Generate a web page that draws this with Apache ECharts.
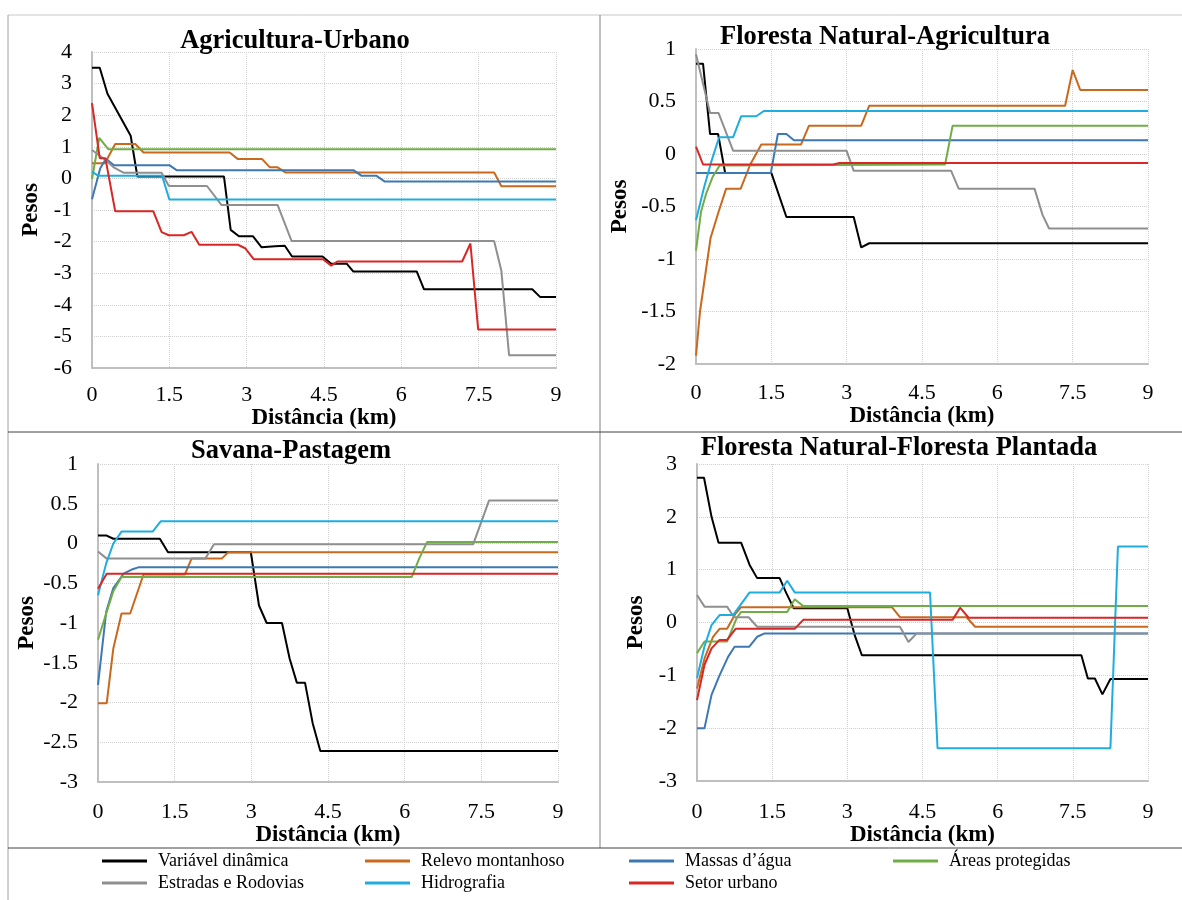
<!DOCTYPE html>
<html>
<head>
<meta charset="utf-8">
<script src="https://cdn.jsdelivr.net/npm/echarts@6.0.0/dist/echarts.min.js"></script>
<style>
html,body{margin:0;padding:0;background:#fff;}
#chart{width:1182px;height:900px;}
</style>
</head>
<body>
<div id="chart"></div>
<script>
// ---------- names / labels ----------
const seriesNames = ['Variável dinâmica','Relevo montanhoso','Massas d’água','Áreas protegidas','Estradas e Rodovias','Hidrografia','Setor urbano'];
const panelTitles = ['Agricultura-Urbano','Floresta Natural-Agricultura','Savana-Pastagem','Floresta Natural-Floresta Plantada'];
const xAxisTitle = 'Distância (km)';
const yAxisTitle = 'Pesos';
const xTicks = [0,1.5,3,4.5,6,7.5,9];
const yTicksP1 = [-6,-5,-4,-3,-2,-1,0,1,2,3,4];
const yTicksP2 = [-2,-1.5,-1,-0.5,0,0.5,1];
const yTicksP3 = [-3,-2.5,-2,-1.5,-1,-0.5,0,0.5,1];
const yTicksP4 = [-3,-2,-1,0,1,2,3];

// ---------- Panel 1: Agricultura-Urbano ----------
const p1Variavel = [[0,3.5],[0.15,3.5],[0.3,2.68],[0.75,1.35],[0.88,0.06],[2.56,0.06],[2.69,-1.63],[2.85,-1.83],[3.12,-1.83],[3.29,-2.18],[3.55,-2.15],[3.74,-2.13],[3.88,-2.47],[4.47,-2.47],[4.64,-2.7],[4.94,-2.7],[5.07,-2.95],[6.3,-2.95],[6.44,-3.51],[8.54,-3.51],[8.69,-3.75],[9,-3.75]];
const p1Relevo = [[0,0.48],[0.25,0.48],[0.45,1.09],[0.84,1.09],[1.0,0.82],[2.67,0.82],[2.83,0.61],[3.3,0.61],[3.45,0.35],[3.6,0.35],[3.75,0.19],[7.8,0.19],[7.94,-0.25],[9,-0.25]];
const p1Massas = [[0,-0.66],[0.16,0.32],[0.27,0.62],[0.42,0.42],[1.5,0.42],[1.64,0.26],[5.07,0.26],[5.23,0.08],[5.52,0.08],[5.68,-0.1],[9,-0.1]];
const p1Areas = [[0,-0.02],[0.14,1.28],[0.32,0.92],[9,0.92]];
const p1Estradas = [[0,0.9],[0.25,0.6],[0.42,0.35],[0.61,0.18],[1.35,0.18],[1.49,-0.24],[2.23,-0.24],[2.51,-0.84],[3.6,-0.84],[3.87,-1.98],[7.8,-1.98],[7.94,-2.92],[8.09,-5.6],[9,-5.6]];
const p1Hidro = [[0,0.22],[0.12,0.08],[1.36,0.08],[1.5,-0.67],[9,-0.67]];
const p1Setor = [[0,2.38],[0.15,0.64],[0.26,0.64],[0.45,-1.04],[1.19,-1.04],[1.35,-1.7],[1.49,-1.8],[1.78,-1.8],[1.93,-1.69],[2.08,-2.1],[2.83,-2.1],[2.97,-2.21],[3.14,-2.56],[4.48,-2.56],[4.64,-2.76],[4.76,-2.63],[7.18,-2.63],[7.34,-2.06],[7.49,-4.78],[9,-4.78]];

// ---------- Panel 2: Floresta Natural-Agricultura ----------
const p2Variavel = [[0,0.86],[0.14,0.86],[0.28,0.19],[0.44,0.19],[0.58,-0.18],[1.5,-0.18],[1.8,-0.6],[3.14,-0.6],[3.29,-0.89],[3.45,-0.85],[9,-0.85]];
const p2Relevo = [[0,-1.92],[0.08,-1.5],[0.17,-1.2],[0.29,-0.8],[0.45,-0.55],[0.6,-0.33],[0.89,-0.33],[1.08,-0.1],[1.3,0.09],[2.09,0.09],[2.25,0.27],[3.29,0.27],[3.45,0.46],[7.35,0.46],[7.5,0.8],[7.65,0.61],[9,0.61]];
const p2Massas = [[0,-0.18],[1.49,-0.18],[1.63,0.19],[1.8,0.19],[1.95,0.13],[9,0.13]];
const p2Areas = [[0,-0.92],[0.1,-0.55],[0.2,-0.38],[0.33,-0.22],[0.47,-0.11],[4.96,-0.1],[5.11,0.27],[9,0.27]];
const p2Estradas = [[0,0.95],[0.28,0.39],[0.45,0.39],[0.74,0.03],[3.0,0.03],[3.14,-0.16],[5.08,-0.16],[5.23,-0.33],[6.74,-0.33],[6.9,-0.58],[7.03,-0.71],[9,-0.71]];
const p2Hidro = [[0,-0.63],[0.16,-0.32],[0.3,-0.08],[0.46,0.16],[0.74,0.16],[0.9,0.36],[1.2,0.36],[1.35,0.41],[9,0.41]];
const p2Setor = [[0,0.07],[0.14,-0.1],[2.73,-0.1],[2.86,-0.085],[9,-0.085]];

// ---------- Panel 3: Savana-Pastagem ----------
const p3Variavel = [[0,0.1],[0.17,0.1],[0.3,0.06],[1.21,0.06],[1.37,-0.11],[2.99,-0.11],[3.15,-0.78],[3.3,-1.0],[3.6,-1.0],[3.75,-1.45],[3.89,-1.75],[4.05,-1.75],[4.2,-2.26],[4.35,-2.61],[9,-2.61]];
const p3Relevo = [[0,-2.01],[0.17,-2.01],[0.3,-1.32],[0.46,-0.88],[0.63,-0.88],[0.89,-0.39],[1.7,-0.39],[1.83,-0.19],[2.42,-0.19],[2.55,-0.11],[9,-0.11]];
const p3Massas = [[0,-1.78],[0.16,-0.86],[0.3,-0.56],[0.5,-0.38],[0.69,-0.32],[0.79,-0.3],[9,-0.3]];
const p3Areas = [[0,-1.21],[0.17,-0.86],[0.3,-0.6],[0.46,-0.42],[6.14,-0.42],[6.29,-0.18],[6.44,0.02],[9,0.02]];
const p3Estradas = [[0,-0.1],[0.17,-0.19],[2.1,-0.19],[2.27,-0.01],[7.34,-0.01],[7.65,0.54],[9,0.54]];
const p3Hidro = [[0,-0.65],[0.16,-0.25],[0.3,0.0],[0.46,0.15],[1.07,0.15],[1.23,0.28],[9,0.28]];
const p3Setor = [[0,-0.57],[0.17,-0.38],[9,-0.38]];

// ---------- Panel 4: Floresta Natural-Floresta Plantada ----------
const p4Variavel = [[0,2.74],[0.14,2.74],[0.29,2.0],[0.43,1.51],[0.88,1.51],[1.05,1.09],[1.2,0.84],[1.65,0.84],[1.78,0.56],[1.93,0.27],[3.0,0.27],[3.15,-0.25],[3.29,-0.62],[7.67,-0.62],[7.8,-1.06],[7.94,-1.06],[8.09,-1.36],[8.25,-1.07],[9,-1.07]];
const p4Relevo = [[0,-1.25],[0.15,-0.68],[0.32,-0.27],[0.45,-0.12],[0.6,-0.12],[0.77,0.17],[0.88,0.29],[3.89,0.29],[4.05,0.1],[5.38,0.1],[5.55,-0.08],[9,-0.08]];
const p4Massas = [[0,-2.0],[0.15,-2.0],[0.29,-1.37],[0.45,-1.0],[0.62,-0.65],[0.75,-0.46],[1.04,-0.46],[1.2,-0.27],[1.34,-0.21],[9,-0.21]];
const p4Areas = [[0,-0.58],[0.15,-0.36],[0.6,-0.36],[0.79,0.08],[0.88,0.2],[1.8,0.2],[1.95,0.44],[2.12,0.31],[9,0.31]];
const p4Estradas = [[0,0.52],[0.15,0.3],[0.6,0.3],[0.74,0.1],[1.03,0.1],[1.2,-0.08],[4.05,-0.08],[4.22,-0.37],[4.38,-0.21],[9,-0.21]];
const p4Hidro = [[0,-1.05],[0.15,-0.45],[0.29,-0.05],[0.45,0.14],[0.72,0.14],[1.05,0.57],[1.65,0.57],[1.8,0.79],[1.95,0.57],[4.65,0.57],[4.8,-2.38],[8.25,-2.38],[8.4,1.44],[9,1.44]];
const p4Setor = [[0,-1.47],[0.15,-0.8],[0.29,-0.49],[0.45,-0.33],[0.6,-0.33],[0.77,-0.12],[1.95,-0.12],[2.12,0.05],[5.1,0.05],[5.25,0.28],[5.42,0.09],[9,0.09]];

// ---------- assembly ----------
const panelData = [
  [p1Variavel,p1Relevo,p1Massas,p1Areas,p1Estradas,p1Hidro,p1Setor],
  [p2Variavel,p2Relevo,p2Massas,p2Areas,p2Estradas,p2Hidro,p2Setor],
  [p3Variavel,p3Relevo,p3Massas,p3Areas,p3Estradas,p3Hidro,p3Setor],
  [p4Variavel,p4Relevo,p4Massas,p4Areas,p4Estradas,p4Hidro,p4Setor]
];
const panelYTicks = [yTicksP1,yTicksP2,yTicksP3,yTicksP4];

const colors = ['#000000','#C8691E','#3E78B2','#70AD47','#8F8F8F','#1FADDF','#D92626'];
const FONT = '"Liberation Serif","Times New Roman",serif';

// layout (pixels)
const grids = [
  {left:92, top:52, width:464, height:316},
  {left:696, top:49, width:452, height:315},
  {left:98, top:464, width:460, height:318},
  {left:697, top:464, width:451, height:317}
];
const xLabelMargin = [16,18,19,20];
const xNameGap = [30,34,36,37];
const yNameGap = [49,64,59,49];
const titlePos = [[295,41],[885,37],[291,451],[899,448]];

const xAxes = grids.map((g,i)=>({
  type:'value', gridIndex:i,
  min:xTicks[0], max:xTicks[xTicks.length-1], interval:xTicks[1]-xTicks[0],
  name:xAxisTitle, nameLocation:'middle', nameGap:xNameGap[i],
  nameTextStyle:{fontFamily:FONT, fontWeight:'bold', fontSize:23, color:'#000'},
  axisLine:{show:true, onZero:false, lineStyle:{color:'#BFBFBF', width:2}},
  axisTick:{show:false},
  axisLabel:{fontFamily:FONT, fontSize:22, color:'#000', margin:xLabelMargin[i]},
  splitLine:{show:true, lineStyle:{type:'dotted', color:'#D0D0D0', width:1}}
}));
const yAxes = grids.map((g,i)=>{
  const t = panelYTicks[i];
  return {
    type:'value', gridIndex:i,
    min:t[0], max:t[t.length-1], interval:t[1]-t[0],
    name:yAxisTitle, nameLocation:'middle', nameRotate:90, nameGap:yNameGap[i],
    nameTextStyle:{fontFamily:FONT, fontWeight:'bold', fontSize:23, color:'#000'},
    axisLine:{show:true, onZero:false, lineStyle:{color:'#BFBFBF', width:2}},
    axisTick:{show:false},
    axisLabel:{fontFamily:FONT, fontSize:22, color:'#000', margin:20},
    splitLine:{show:true, lineStyle:{type:'dotted', color:'#D0D0D0', width:1}}
  };
});

const series = [];
panelData.forEach((panel,p)=>{
  panel.forEach((data,s)=>{
    series.push({
      type:'line', name:seriesNames[s], xAxisIndex:p, yAxisIndex:p,
      data:data, showSymbol:false, symbol:'none', smooth:false,
      color:colors[s],
      lineStyle:{width:2, color:colors[s]},
      itemStyle:{color:colors[s]},
      emphasis:{disabled:true},
      animation:false
    });
  });
});

// legend: 4 columns x 2 rows
const legendCols = [97,360,624,888];
const legendRows = [847,869];
const legendSlots = [[0,0],[1,0],[2,0],[3,0],[0,1],[1,1],[2,1]];
const legends = seriesNames.map((n,i)=>({
  data:[n], left:legendCols[legendSlots[i][0]], top:legendRows[legendSlots[i][1]],
  icon:'rect', itemWidth:45, itemHeight:3, selectedMode:false,
  textStyle:{fontFamily:FONT, fontSize:18, color:'#000', padding:[0,0,0,6]}
}));

const graphics = [];
titlePos.forEach((pos,i)=>{
  graphics.push({type:'text', x:pos[0], y:pos[1], z:10,
    style:{text:panelTitles[i], font:'bold 26.5px '+FONT, fill:'#000', textAlign:'center', textVerticalAlign:'middle'}});
});
// frame / separators
const frameLines = [
  {x1:8,y1:15,x2:1182,y2:15,c:'#C8C8C8'},
  {x1:8,y1:15,x2:8,y2:900,c:'#A0A0A0'},
  {x1:600,y1:15,x2:600,y2:848,c:'#808080'},
  {x1:8,y1:432,x2:1182,y2:432,c:'#404040'},
  {x1:8,y1:848,x2:1182,y2:848,c:'#404040'}
];
frameLines.forEach(l=>{
  graphics.push({type:'line', shape:{x1:l.x1,y1:l.y1,x2:l.x2,y2:l.y2}, style:{stroke:l.c, lineWidth:1}, silent:true});
});

const chart = echarts.init(document.getElementById('chart'), null, {renderer:'canvas'});
chart.setOption({
  backgroundColor:'#ffffff',
  animation:false,
  grid:grids.map(g=>Object.assign({containLabel:false}, g)),
  xAxis:xAxes,
  yAxis:yAxes,
  legend:legends,
  series:series,
  graphic:graphics
});
</script>
</body>
</html>
